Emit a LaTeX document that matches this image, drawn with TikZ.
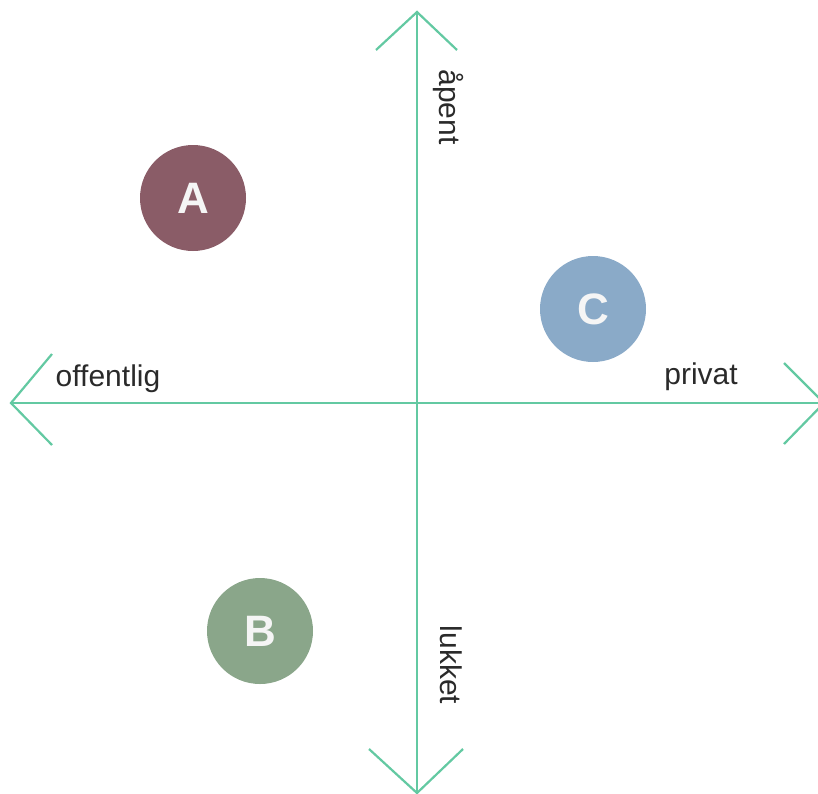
\documentclass[tikz,border=0pt]{standalone}
\usepackage{fontspec}
\setmainfont{Liberation Sans}
\definecolor{axis}{HTML}{63C9A2}
\definecolor{cA}{HTML}{8A5C67}
\definecolor{cB}{HTML}{8AA68A}
\definecolor{cC}{HTML}{8AAAC8}
\definecolor{txt}{HTML}{2A2A2A}
\begin{document}
\begin{tikzpicture}[x=1pt,y=-1pt,
  axisline/.style={draw=axis},
  chevron/.style={draw=axis,line width=2.2pt},
  bubble/.style={circle,minimum size=106pt,inner sep=0pt,text=white!96!black,font=\fontsize{44}{44}\selectfont\bfseries},
  lbl/.style={text=txt,inner sep=0pt,font=\fontsize{30}{30}\selectfont}]
\useasboundingbox (0,0) rectangle (818,793);
\clip (0,0) rectangle (818,793);
% axes end points
\coordinate (L) at (11,403);
\coordinate (R) at (824,403);
\coordinate (T) at (417,12);
\coordinate (Bt) at (417,793);
\draw[axisline,line width=2pt] (L) -- (R);
\draw[axisline,line width=1.1pt] (T) -- (Bt);
% chevrons
\draw[chevron] ([shift={(41,-49)}]L) -- (L) -- ([shift={(41,42)}]L);
\draw[chevron] ([shift={(-40,-40)}]R) -- (R) -- ([shift={(-40,41)}]R);
\draw[chevron] ([shift={(-41,38)}]T) -- (T) -- ([shift={(40,38)}]T);
\draw[chevron] ([shift={(-48,-44)}]Bt) -- (Bt) -- ([shift={(46,-44)}]Bt);
% labels
\node[lbl] (off) at (108,379) {offentlig};
\node[lbl] (priv) at (701,377) {privat};
\node[lbl,rotate=-90] (open) at (448,107) {åpent};
\node[lbl,rotate=-90] (closed) at (451,665) {lukket};
% bubbles
\node[bubble,fill=cA] (A) at (193,198) {A};
\node[bubble,fill=cB] (B) at (260,631) {B};
\node[bubble,fill=cC] (C) at (593,309) {C};
\end{tikzpicture}
\end{document}
